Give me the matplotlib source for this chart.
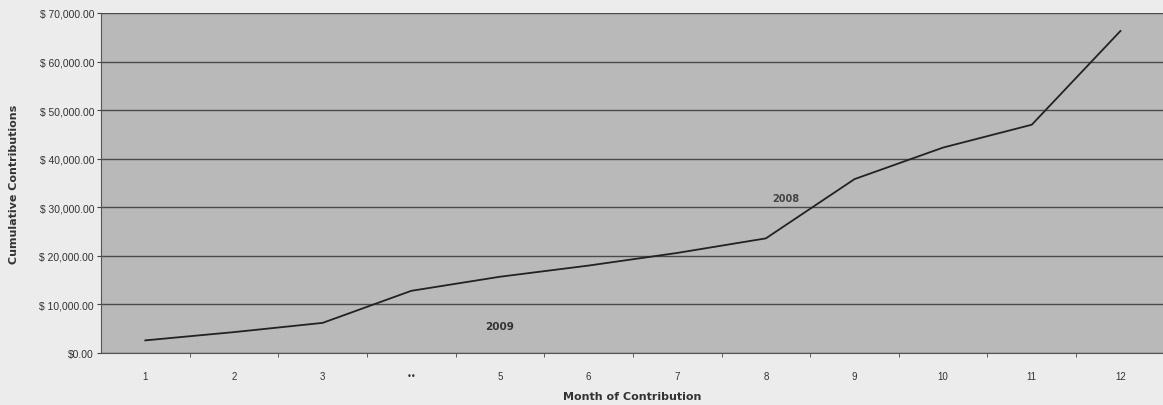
import numpy as np
import matplotlib
matplotlib.use("Agg")
import matplotlib.pyplot as plt
from matplotlib.ticker import FuncFormatter, FixedLocator

months = np.arange(1, 13)
month_labels = ["1", "2", "3", "\u2022\u2022", "5", "6", "7", "8", "9", "10", "11", "12"]
cumulative = [2600, 4300, 6200, 12800, 15700, 18000, 20600, 23600, 35800, 42300, 47000, 66300]

fig = plt.figure(figsize=(11.63, 4.06), dpi=100)
fig.patch.set_facecolor("#ececec")
ax = fig.add_axes([101 / 1163, 1 - 354 / 406, 1 - 101 / 1163, 340 / 406])
ax.set_facecolor("#b9b9b9")

ax.plot(months, cumulative, color="#222222", lw=1.3)

ax.set_xlim(0.5, 12.48)
ax.set_ylim(0, 70000)
ax.set_yticks(np.arange(0, 70001, 10000))
ax.yaxis.set_major_formatter(FuncFormatter(lambda v, p: "$0.00" if v == 0 else "$ {:,.2f}".format(v)))
ax.grid(axis="y", color="#4a4a4a", lw=1.0)
ax.set_axisbelow(True)

ax.set_xticks(months)
ax.set_xticklabels(month_labels)
ax.xaxis.set_minor_locator(FixedLocator(np.arange(1.5, 12.5, 1)))
ax.tick_params(axis="x", which="major", length=0, pad=13, labelsize=7, labelcolor="#333333")
ax.tick_params(axis="x", which="minor", length=3, color="#444444")
ax.tick_params(axis="y", length=3, pad=2, labelsize=7.5, labelcolor="#333333", color="#444444")
for lab in ax.get_xticklabels() + ax.get_yticklabels():
    lab.set_fontfamily(["Liberation Sans", "DejaVu Sans"])
ax.get_xticklabels()[3].set_fontfamily("DejaVu Sans")
ax.get_xticklabels()[3].set_fontsize(6)

for s in ["top", "right"]:
    ax.spines[s].set_visible(False)
ax.spines["left"].set_color("#555555")
ax.spines["bottom"].set_color("#555555")

ax.text(5, 5500, "2009", ha="center", va="center", fontsize=7.5, fontweight="bold",
        color="#333333", family="DejaVu Sans")
ax.text(8.23, 32000, "2008", ha="center", va="center", fontsize=7, fontweight="bold",
        color="#444444", family="DejaVu Sans")

fig.text(632 / 1163, 1 - 397 / 406, "Month of Contribution", ha="center", va="center",
         fontsize=8, fontweight="bold", color="#333333")
fig.text(14 / 1163, 1 - 184 / 406, "Cumulative Contributions", rotation=90, ha="center", va="center",
         fontsize=8, fontweight="bold", color="#333333")

fig.savefig("out.png", dpi=100, facecolor=fig.get_facecolor())
